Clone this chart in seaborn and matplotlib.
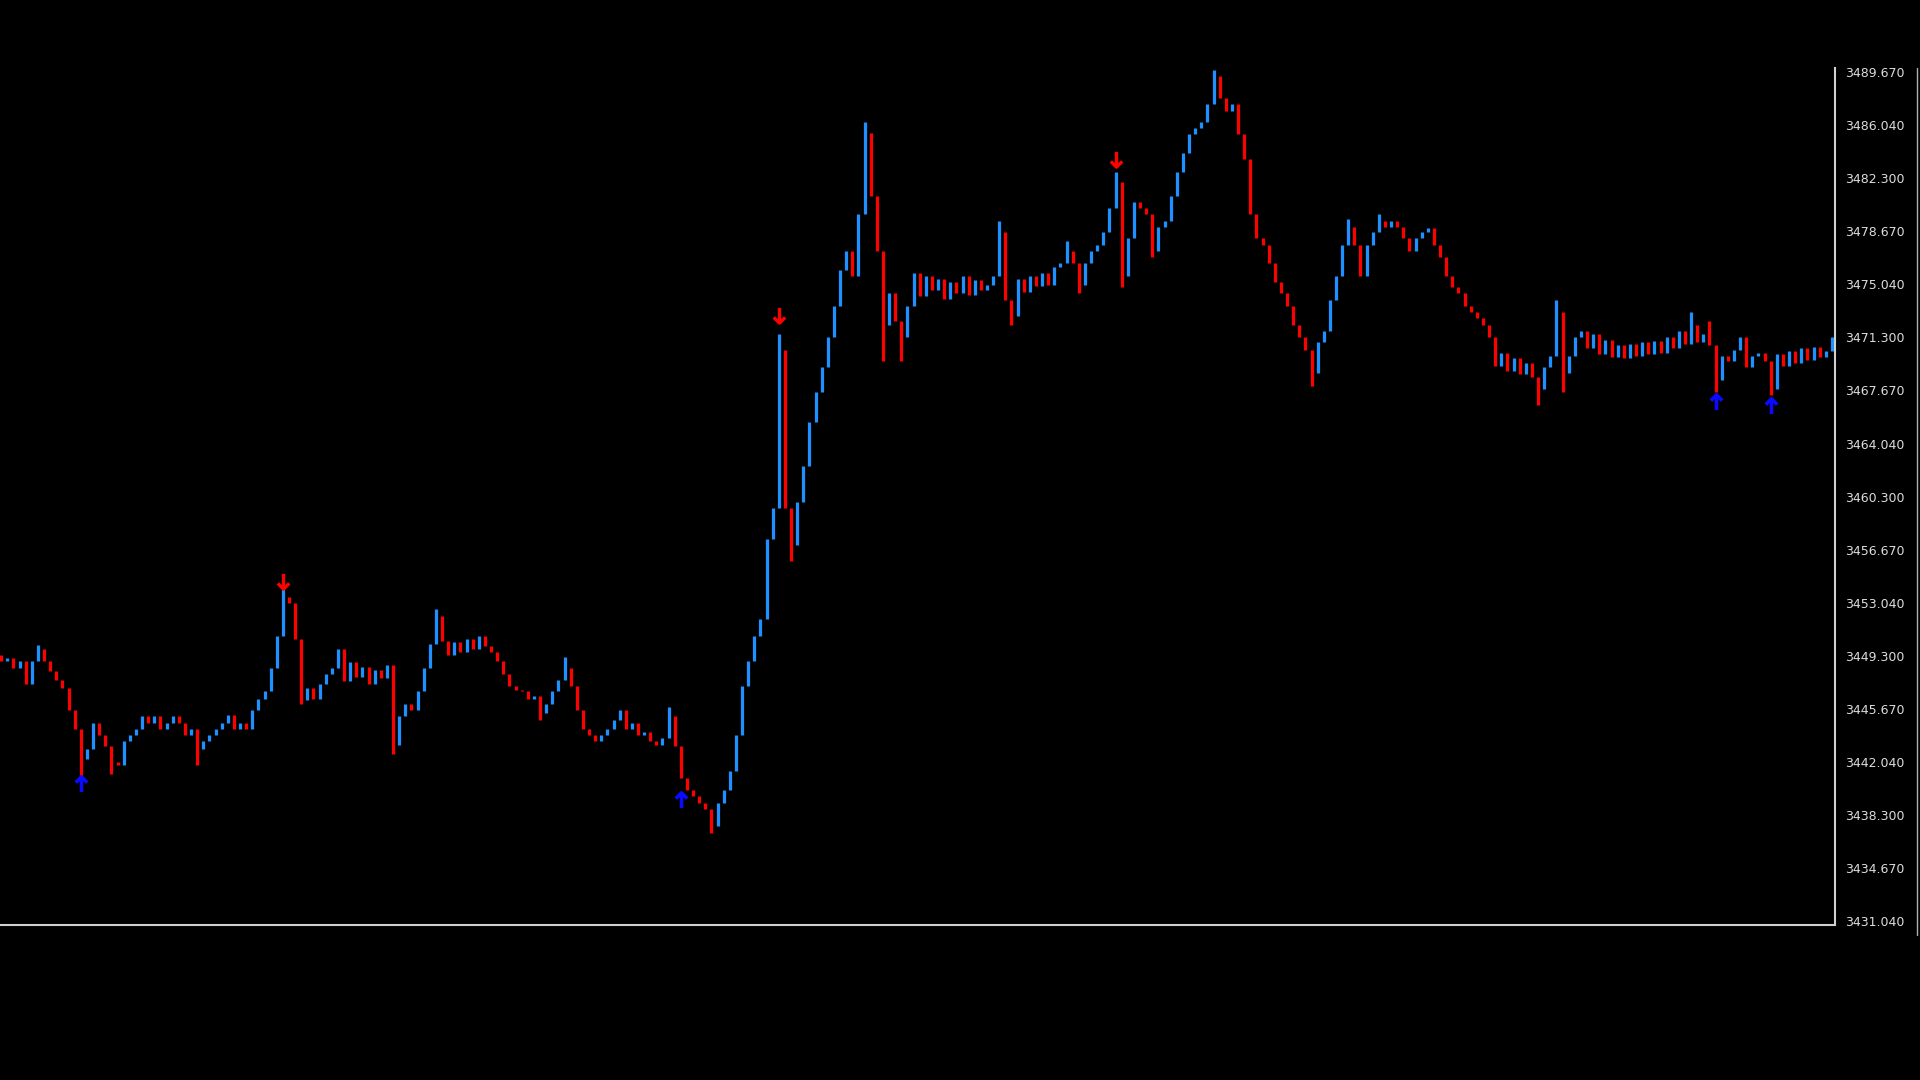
import numpy as np
import pandas as pd
import matplotlib
matplotlib.use("Agg")
import matplotlib.pyplot as plt
import seaborn as sns
from matplotlib.lines import Line2D
from matplotlib.path import Path

# closing prices, one bar per step left to right
closes = [
    3449.0, 3449.2, 3448.5, 3449.0, 3447.4, 3449.0, 3449.8, 3449.0, 3448.3, 3447.7,
    3447.1, 3445.6, 3444.3, 3442.2, 3442.9, 3444.7, 3443.9, 3443.1, 3442.0, 3441.8,
    3443.5, 3443.9, 3444.3, 3445.2, 3444.7, 3445.2, 3444.3, 3444.7, 3445.2, 3444.7,
    3443.9, 3444.3, 3442.9, 3443.5, 3443.9, 3444.3, 3444.7, 3445.3, 3444.3, 3444.7,
    3444.3, 3445.6, 3446.4, 3446.9, 3448.5, 3450.7, 3453.4, 3453.0, 3450.5, 3446.3,
    3447.1, 3446.4, 3447.4, 3448.1, 3448.5, 3449.8, 3447.6, 3448.9, 3447.9, 3448.6,
    3447.4, 3448.4, 3447.8, 3448.7, 3443.2, 3445.2, 3446.0, 3445.6, 3446.9, 3448.5,
    3450.2, 3452.1, 3450.4, 3449.4, 3450.3, 3449.6, 3450.5, 3449.8, 3450.7, 3450.0,
    3449.6, 3449.0, 3448.1, 3447.3, 3447.0, 3446.9, 3446.4, 3446.6, 3445.4, 3446.0,
    3446.9, 3447.7, 3448.5, 3447.3, 3445.6, 3444.3, 3443.9, 3443.5, 3443.9, 3444.3,
    3444.9, 3445.6, 3444.3, 3444.7, 3443.9, 3444.1, 3443.5, 3443.2, 3443.7, 3445.2,
    3443.1, 3440.9, 3440.1, 3439.7, 3439.2, 3438.8, 3437.6, 3439.2, 3440.1, 3441.4,
    3443.9, 3447.3, 3449.0, 3450.7, 3451.9, 3457.4, 3459.6, 3470.5, 3459.6, 3457.0,
    3460.0, 3462.5, 3465.5, 3467.6, 3469.3, 3471.4, 3473.5, 3476.0, 3477.3, 3475.6,
    3479.9, 3485.5, 3481.1, 3477.3, 3472.2, 3474.4, 3472.5, 3471.4, 3473.5, 3475.8,
    3474.2, 3475.6, 3474.6, 3475.4, 3474.0, 3475.2, 3474.4, 3475.6, 3474.3, 3475.3,
    3474.6, 3475.0, 3475.6, 3478.6, 3473.9, 3472.8, 3475.4, 3474.5, 3475.6, 3474.9,
    3475.8, 3475.0, 3476.2, 3476.5, 3477.3, 3476.5, 3475.0, 3476.5, 3477.3, 3477.7,
    3478.6, 3480.3, 3482.1, 3475.6, 3478.2, 3480.7, 3480.3, 3479.9, 3477.3, 3479.0,
    3479.4, 3481.1, 3482.8, 3484.1, 3485.4, 3485.8, 3486.2, 3487.5, 3489.4, 3487.9,
    3487.0, 3487.5, 3485.4, 3483.7, 3479.9, 3478.2, 3477.7, 3476.5, 3475.2, 3474.4,
    3473.5, 3472.2, 3471.4, 3470.5, 3468.9, 3471.0, 3471.8, 3473.9, 3475.6, 3477.7,
    3479.0, 3477.7, 3475.6, 3477.7, 3478.6, 3479.4, 3479.0, 3479.4, 3479.0, 3478.2,
    3477.3, 3478.2, 3478.6, 3478.9, 3477.7, 3476.9, 3475.6, 3474.8, 3474.4, 3473.5,
    3473.1, 3472.7, 3472.2, 3471.4, 3469.4, 3470.3, 3469.0, 3469.9, 3468.8, 3469.6,
    3468.6, 3467.8, 3469.3, 3470.1, 3473.1, 3468.9, 3470.1, 3471.4, 3471.8, 3470.6,
    3471.6, 3470.2, 3471.2, 3470.0, 3470.8, 3469.9, 3470.9, 3470.1, 3471.0, 3470.2,
    3471.1, 3470.3, 3471.4, 3470.6, 3471.8, 3470.9, 3472.2, 3471.0, 3471.6, 3470.8,
    3468.4, 3470.1, 3469.7, 3470.5, 3471.4, 3469.3, 3470.1, 3470.3, 3469.7, 3467.8,
    3470.2, 3469.4, 3470.4, 3469.6, 3470.6, 3469.8, 3470.7, 3470.0, 3470.4, 3471.4,
]
first_open = 3449.4

# wick extremes on bars that spike past their body
spike_high_idx = [6, 46, 71, 92, 109, 127, 141, 163, 174, 182, 198, 220, 225, 254, 276, 279]
spike_high = [3450.1, 3454.0, 3452.6, 3449.3, 3445.8, 3471.6, 3486.2, 3479.4,
              3478.0, 3482.8, 3489.8, 3479.5, 3479.9, 3473.9, 3473.1, 3472.5]
spike_low_idx = [13, 18, 32, 49, 64, 88, 116, 129, 144, 147, 165, 176, 183, 188,
                 214, 251, 255, 280, 289]
spike_low = [3440.9, 3441.2, 3441.8, 3446.0, 3442.6, 3444.9, 3437.1, 3455.9, 3469.7,
             3469.7, 3472.2, 3474.4, 3474.8, 3476.9, 3468.0, 3466.7, 3467.6, 3467.6, 3467.4]

# signal arrows
sell_idx = [46, 127, 182]
sell_price = [3454.5, 3472.9, 3483.7]
buy_idx = [13, 111, 280, 289]
buy_price = [3440.5, 3439.4, 3466.9, 3466.6]

price_labels = ["3431.040", "3434.670", "3438.300", "3442.040", "3445.670", "3449.300",
                "3453.040", "3456.670", "3460.300", "3464.040", "3467.670", "3471.300",
                "3475.040", "3478.670", "3482.300", "3486.040", "3489.670"]

BULL = "#1e90ff"
BEAR = "#ff0000"
BUY = "#0a0aff"

df = pd.DataFrame({"close": closes})
df["idx"] = np.arange(len(df))
df["open"] = df["close"].shift(1).fillna(first_open)
df["high"] = df[["open", "close"]].max(axis=1)
df["low"] = df[["open", "close"]].min(axis=1)
df.loc[spike_high_idx, "high"] = np.maximum(df.loc[spike_high_idx, "high"], spike_high)
df.loc[spike_low_idx, "low"] = np.minimum(df.loc[spike_low_idx, "low"], spike_low)
df["color"] = np.where(df["close"] >= df["open"], BULL, BEAR)

sns.set_theme(style="dark", rc={"axes.facecolor": "black", "figure.facecolor": "black",
                                "axes.grid": False})
plt.rcParams["font.family"] = ["DejaVu Sans"]

fig = plt.figure(figsize=(19.2, 10.8), dpi=100, facecolor="black")
ax = fig.add_axes([0, 155 / 1080, 1835 / 1920, (925 - 68) / 1080])
ax.set_facecolor("black")

ax.vlines(df["idx"], df["low"], df["high"], colors=df["color"], linewidth=2.3)

# arrow glyphs: stem plus open V head
M, L = Path.MOVETO, Path.LINETO
down_arrow = Path([(0, 1), (0, -1), (-0.75, -0.25), (0, -1), (0.75, -0.25)], [M, L, M, L, L])
up_arrow = Path([(0, -1), (0, 1), (-0.75, 0.25), (0, 1), (0.75, 0.25)], [M, L, M, L, L])

ax.plot(sell_idx, sell_price, linestyle="none", marker=down_arrow, markersize=11,
        markeredgewidth=2.4, color=BEAR, markerfacecolor="none")
ax.plot(buy_idx, buy_price, linestyle="none", marker=up_arrow, markersize=11,
        markeredgewidth=2.6, color=BUY, markerfacecolor="none")

ax.set_xlim(-0.2, 299.5)
ax.set_ylim(3430.76, 3489.96)

ax.yaxis.tick_right()
ax.set_yticks(np.linspace(3431.04, 3489.67, len(price_labels)))
ax.set_yticklabels(price_labels)
ax.set_xticks(np.arange(6.37, 299.5, 16.82))
ax.set_xticklabels([])
ax.tick_params(axis="y", colors="#d0d0d0", labelcolor="#dcdcdc", length=4,
               width=1, labelsize=9, pad=3, direction="out")
ax.tick_params(axis="x", colors="#d0d0d0", length=6, width=1, direction="out",
               labelbottom=False)
ax.set_xlabel("")
ax.set_ylabel("")

sns.despine(ax=ax, left=True, top=True, right=False, bottom=False)
for side in ["right", "bottom"]:
    ax.spines[side].set_color("#d0d0d0")
    ax.spines[side].set_linewidth(1.5)

fig.add_artist(Line2D([1917 / 1920, 1917 / 1920], [1 - 68 / 1080, 1 - 935 / 1080],
                      color="#b0b0b0", linewidth=1))

fig.savefig("out.png", dpi=100, facecolor="black")
